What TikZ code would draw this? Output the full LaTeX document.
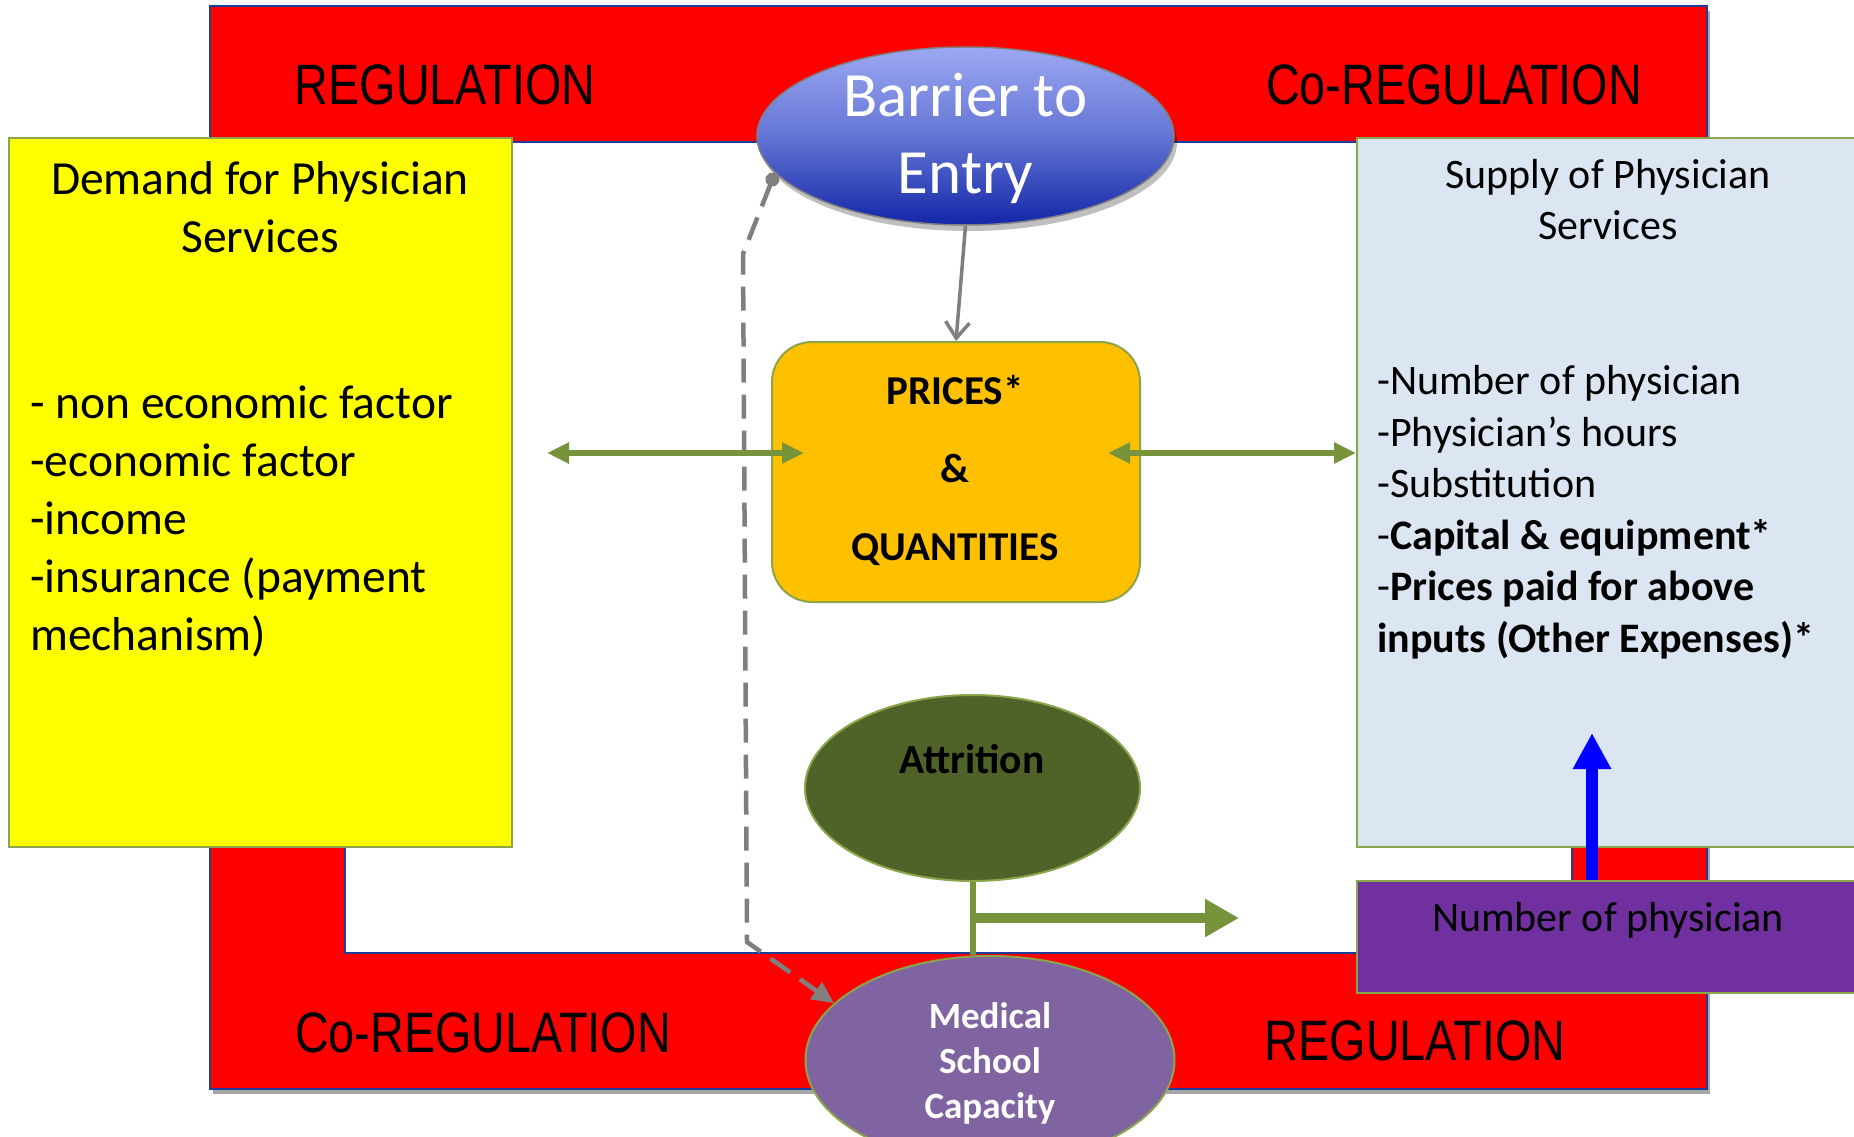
\documentclass[tikz,border=0pt]{standalone}
\usepackage{fontspec}
\setmainfont{Carlito}
\newfontfamily\arialf{Liberation Sans}
\usetikzlibrary{shapes.geometric,arrows.meta,shadows}

\definecolor{regred}{HTML}{FF0000}
\definecolor{regblue}{HTML}{1F3C9A}
\definecolor{demandyel}{HTML}{FFFF00}
\definecolor{edgegreen}{HTML}{8AA54A}
\definecolor{priceor}{HTML}{FFC000}
\definecolor{supplyblue}{HTML}{DCE6F2}
\definecolor{attgreen}{HTML}{4F6228}
\definecolor{medpurple}{HTML}{8064A2}
\definecolor{numpurple}{HTML}{7030A0}
\definecolor{arrowgreen}{HTML}{77933C}
\definecolor{bartop}{HTML}{9CA8F2}
\definecolor{barmid}{HTML}{6475D4}
\definecolor{barbot}{HTML}{1226A8}
\definecolor{linkgray}{HTML}{7F7F7F}

\tikzset{
  bandframe/.style={draw=regblue, line width=2pt, fill=regred, inner sep=0pt,
    drop shadow={shadow xshift=3pt, shadow yshift=-5pt, fill=gray!70, opacity=1}},
  bandhole/.style={draw=regblue, line width=2pt, fill=white, inner sep=0pt},
  bandtext/.style={inner sep=0pt, font=\arialf\fontsize{57}{60}\selectfont},
  infobox/.style={draw=edgegreen, line width=2pt, inner sep=0pt},
  oval/.style={ellipse, draw=edgegreen, line width=2pt, inner sep=0pt},
  greenlink/.style={draw=arrowgreen, line width=5.5pt,
    {Triangle[length=22pt,width=20pt]}-{Triangle[length=22pt,width=20pt]}},
  graylink/.style={draw=linkgray, line width=3.5pt,
    -{Straight Barb[length=16pt,width=24pt]}},
  dashlink/.style={draw=linkgray, line width=4.5pt, dash pattern=on 24pt off 12pt,
    {Circle[length=14pt,fill=linkgray]}-{Triangle[length=22pt,width=20pt,fill=linkgray]}},
}

\begin{document}
\begin{tikzpicture}[x=1pt,y=-1pt]
\useasboundingbox (0,0) rectangle (1854,1137);

% regulation frame
\node[bandframe, minimum width=1497pt, minimum height=1083pt] (frame) at (958.5,547.5) {};
\node[bandhole, minimum width=1227pt, minimum height=811pt] (hole) at (958.5,547.5) {};

\node[bandtext] (regtl) at (445,85) {\scalebox{0.82}[1]{REGULATION}};
\node[bandtext] (regtr) at (1454,85) {\scalebox{0.82}[1]{Co-REGULATION}};
\node[bandtext] (regbl) at (483,1033) {\scalebox{0.82}[1]{Co-REGULATION}};
\node[bandtext] (regbr) at (1415,1041) {\scalebox{0.82}[1]{REGULATION}};

% demand side
\node[infobox, fill=demandyel, minimum width=503pt, minimum height=709pt] (demand) at (260.5,492.5) {};
\node[align=center, inner sep=0pt, font=\fontsize{47.5}{58}\selectfont] (demandtitle) at (260,207)
  {Demand for Physician\\Services};
\node[align=left, anchor=west, inner sep=0pt, font=\fontsize{47.5}{58}\selectfont] (demandlist) at (30,521)
  {- non economic factor\\-economic factor\\-income\\-insurance (payment\\mechanism)};

% supply side
\node[infobox, fill=supplyblue, minimum width=523pt, minimum height=709pt] (supply) at (1618.5,492.5) {};
\node[align=center, inner sep=0pt, font=\fontsize{42}{51}\selectfont] (supplytitle) at (1608,200)
  {Supply of Physician\\Services};
\node[align=left, anchor=west, inner sep=0pt, font=\fontsize{42}{51.5}\selectfont] (supplylist) at (1377,512)
  {-Number of physician\\-Physician’s hours\\-Substitution\\-\textbf{Capital \& equipment*}\\-\textbf{Prices paid for above}\\\textbf{inputs (Other Expenses)*}};

\node[infobox, fill=numpurple, minimum width=523pt, minimum height=112pt] (numphys) at (1618.5,937) {};
\node[inner sep=0pt, font=\fontsize{42}{50}\selectfont] (numtext) at (1608,920) {Number of physician};

% barrier to entry
\node[ellipse, draw=gray, line width=1.5pt, inner sep=0pt, minimum width=417pt, minimum height=178pt,
  top color=bartop, bottom color=barbot, middle color=barmid,
  drop shadow={shadow xshift=3pt, shadow yshift=-6pt, fill=black, opacity=0.25}] (barrier) at (965.5,136) {};
\node[align=center, inner sep=0pt, text=white, font=\fontsize{63}{77}\selectfont] (barriertext) at (965.5,138)
  {Barrier to\\Entry};

% prices and quantities
\node[infobox, fill=priceor, rounded corners=40pt, minimum width=368pt, minimum height=260pt] (prices) at (956,472) {};
\node[align=center, inner sep=0pt, font=\bfseries\fontsize{41}{78}\selectfont] (pricestext) at (955,470)
  {PRICES*\\\&\\QUANTITIES};

% attrition and medical school capacity
\node[oval, fill=attgreen, minimum width=335pt, minimum height=186pt] (att) at (972.5,788) {};
\node[inner sep=0pt, font=\bfseries\fontsize{41.5}{50}\selectfont] (atttext) at (972,759) {Attrition};

\node[oval, fill=medpurple, minimum width=369pt, minimum height=208pt] (med) at (990,1060) {};
\node[align=center, inner sep=0pt, text=white, font=\bfseries\fontsize{37}{45}\selectfont] (medtext) at (990,1063)
  {Medical\\School\\Capacity};

% connectors
\coordinate (dbend) at (743,254);
\coordinate (dlow) at (747,942);
\draw[dashlink] (barrier.191) -- (dbend) -- (dlow) -- (med.160);

\draw[graylink] (barrier.south) -- (prices.north);

\coordinate (leftend) at (547,453);
\coordinate (leftin) at (804,453);
\draw[greenlink] (leftend) -- (leftin);
\coordinate (rightin) at (1108,453);
\draw[greenlink] (rightin) -- (rightin -| supply.west);

\draw[arrowgreen, line width=6pt] (att.south) -- (att.south |- med.north);
\coordinate (atttip) at (1239,918);
\draw[arrowgreen, line width=10pt, -{Triangle[length=34pt,width=36pt]}] (att.south |- atttip) -- (atttip);

\coordinate (bluetip) at (1592,733);
\draw[blue, line width=12pt, -{Triangle[length=36pt,width=36pt]}] (bluetip |- numphys.north) -- (bluetip);

\end{tikzpicture}
\end{document}
